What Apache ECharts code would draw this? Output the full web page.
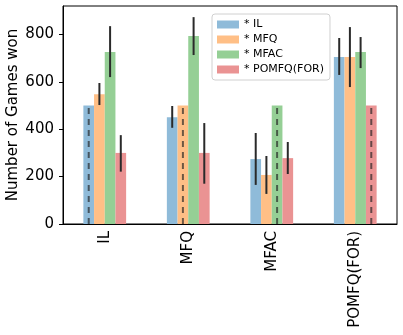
<!DOCTYPE html>
<html>
<head>
<meta charset="utf-8">
<script src="https://cdn.jsdelivr.net/npm/echarts@6/dist/echarts.min.js"></script>
<style>
  html, body { margin: 0; padding: 0; background: #fff; }
  #chart { width: 403px; height: 335px; }
</style>
</head>
<body>
<div id="chart"></div>
<script>
// 数据
var categories = ['IL', 'MFQ', 'MFAC', 'POMFQ(FOR)'];
var seriesNames = ['* IL', '* MFQ', '* MFAC', '* POMFQ(FOR)'];
var ilWins    = [500, 450, 274, 705];
var mfqWins   = [548, 500, 207, 705];
var mfacWins  = [726, 793, 500, 726];
var pomfqWins = [300, 300, 278, 500];
// error bars [low, high], null = dashed self-play line
var ilErr    = [null, [406, 498], [165, 384], [629, 785]];
var mfqErr   = [[502, 595], null, [127, 287], [578, 831]];
var mfacErr  = [[620, 835], [713, 873], null, [658, 789]];
var pomfqErr = [[221, 375], [170, 426], [211, 346], null];
var yTicks = [0, 200, 400, 600, 800];

var colors = ['#8fbbd9', '#ffbf86', '#95cf95', '#ea9393'];
var values = [ilWins, mfqWins, mfacWins, pomfqWins];
var errs = [ilErr, mfqErr, mfacErr, pomfqErr];
var BAR_FRAC = 0.128;

var chart = echarts.init(document.getElementById('chart'));

var errData = [];
errs.forEach(function (e, s) {
  e.forEach(function (lh, c) {
    if (lh) errData.push([c, lh[0], lh[1], s, 0]);
    else errData.push([c, 0, values[s][c], s, 1]);
  });
});

var barSeries = seriesNames.map(function (name, i) {
  return {
    name: name,
    type: 'bar',
    data: values[i],
    barWidth: (BAR_FRAC * 100) + '%',
    barGap: '0%',
    itemStyle: { color: colors[i] },
    emphasis: { disabled: true }
  };
});

barSeries.push({
  type: 'custom',
  data: errData,
  z: 10,
  silent: true,
  encode: { x: 0, y: [1, 2] },
  renderItem: function (params, api) {
    var c = api.value(0);
    var s = api.value(3);
    var dashed = api.value(4) === 1;
    var bw = api.size([1, 0])[0] * BAR_FRAC;
    var p0 = api.coord([c, api.value(1)]);
    var p1 = api.coord([c, api.value(2)]);
    var x = p0[0] + (s - 1.5) * bw;
    return {
      type: 'line',
      shape: { x1: x, y1: p0[1], x2: x, y2: p1[1] },
      style: dashed ? {
        stroke: 'rgba(30,30,30,0.65)',
        lineWidth: 2,
        lineDash: [6, 5]
      } : {
        stroke: '#2a2a2a',
        lineWidth: 2
      }
    };
  }
});

chart.setOption({
  animation: false,
  textStyle: { fontFamily: 'DejaVu Sans' },
  grid: {
    left: 63, right: 6, top: 6, bottom: 111,
    outerBoundsMode: 'none',
    show: true, borderColor: '#000', borderWidth: 1
  },
  legend: {
    data: seriesNames,
    orient: 'vertical',
    left: 212, top: 14,
    itemWidth: 22, itemHeight: 8, itemGap: 4,
    padding: [5, 6, 5, 5],
    borderColor: '#d0d0d0', borderWidth: 1, borderRadius: 3,
    backgroundColor: 'rgba(255,255,255,0.8)',
    textStyle: { fontSize: 11, color: '#000', fontFamily: 'DejaVu Sans' },
    icon: 'rect'
  },
  xAxis: {
    type: 'category',
    data: categories,
    axisLine: { lineStyle: { color: '#000' } },
    axisTick: { alignWithLabel: true, length: 4, lineStyle: { color: '#000' } },
    axisLabel: { rotate: 90, fontSize: 15, color: '#000', margin: 7, fontFamily: 'DejaVu Sans' }
  },
  yAxis: {
    type: 'value',
    min: 0, max: 920, interval: 200,
    name: 'Number of Games won',
    nameLocation: 'middle',
    nameGap: 42,
    nameMoveOverlap: false,
    nameTextStyle: { fontSize: 15, color: '#000', fontFamily: 'DejaVu Sans' },
    splitLine: { show: false },
    axisLine: { show: true, lineStyle: { color: '#000' } },
    axisTick: { show: true, length: 4, lineStyle: { color: '#000' }, customValues: yTicks },
    axisLabel: { fontSize: 15, color: '#000', margin: 9, fontFamily: 'DejaVu Sans', customValues: yTicks }
  },
  series: barSeries
});
</script>
</body>
</html>
